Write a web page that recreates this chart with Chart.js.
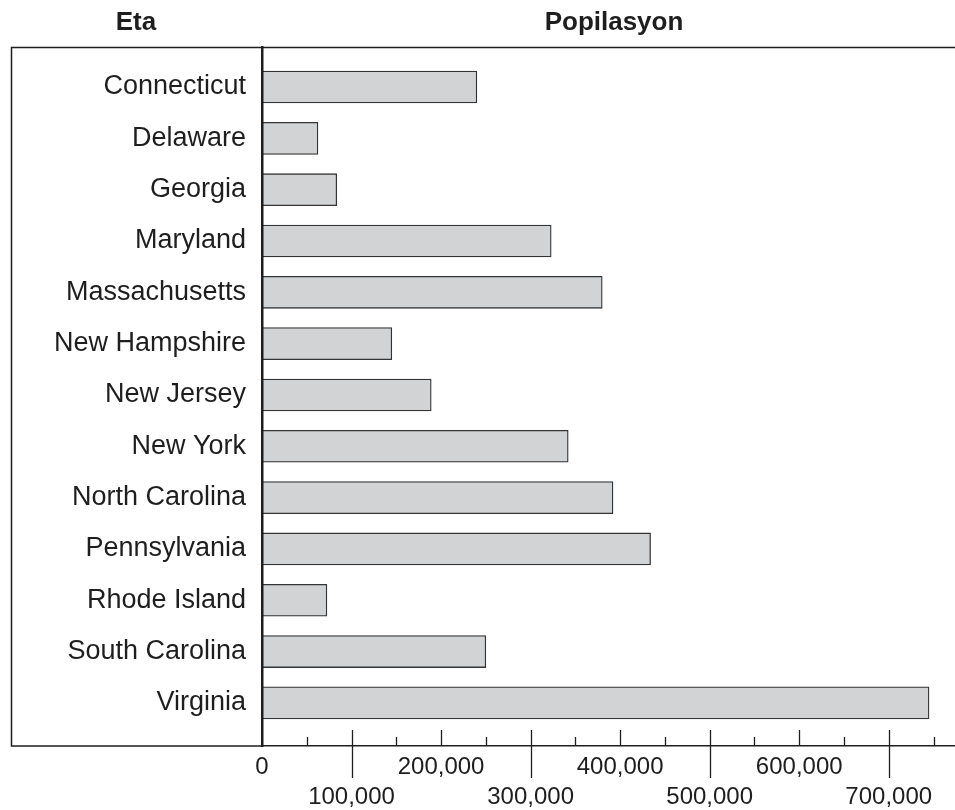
<!DOCTYPE html>
<html>
<head>
<meta charset="utf-8">
<script src="https://cdn.jsdelivr.net/npm/chart.js@4/dist/chart.umd.min.js"></script>
<style>
html,body{margin:0;padding:0;background:#fff;}
#wrap{width:955px;height:810px;}
</style>
</head>
<body>
<div id="wrap"><canvas id="c" width="955" height="810"></canvas></div>
<script>
const states = ["Connecticut","Delaware","Georgia","Maryland","Massachusetts","New Hampshire","New Jersey","New York","North Carolina","Pennsylvania","Rhode Island","South Carolina","Virginia"];
const population = [240000, 62500, 83500, 323000, 380000, 145000, 189000, 342000, 392000, 434000, 72500, 250000, 745000];
const headerLeft = "Eta";
const headerRight = "Popilasyon";
const xTicks = [0, 50000, 100000, 150000, 200000, 250000, 300000, 350000, 400000, 450000, 500000, 550000, 600000, 650000, 700000, 750000];
const xLabelled = [0, 100000, 200000, 300000, 400000, 500000, 600000, 700000];
const xLowerRow = [100000, 300000, 500000, 700000];
const xMax = 774000;

const INK = "#1e1e1e";
const FONT = "'Liberation Sans', Arial, Helvetica, sans-serif";

const framePlugin = {
  id: "frame",
  afterDraw(chart) {
    const ctx = chart.ctx;
    const a = chart.chartArea;
    const xs = chart.scales.x;
    ctx.save();
    ctx.strokeStyle = INK;
    ctx.lineWidth = 1.5;
    ctx.beginPath();
    ctx.moveTo(955, a.top + 0.5);
    ctx.lineTo(11.5, a.top + 0.5);
    ctx.lineTo(11.5, a.bottom);
    ctx.lineTo(a.left, a.bottom);
    ctx.stroke();
    ctx.lineWidth = 1.3;
    xs.ticks.forEach(t => {
      const v = t.value;
      if (v === 0) return;
      const x = Math.round(xs.getPixelForValue(v)) + 0.5;
      let y1, y2 = a.bottom;
      if (xLabelled.includes(v)) {
        y1 = a.bottom - 16;
        if (xLowerRow.includes(v)) y2 = a.bottom + 32;
      } else {
        y1 = a.bottom - 9;
      }
      ctx.beginPath();
      ctx.moveTo(x, y1);
      ctx.lineTo(x, y2);
      ctx.stroke();
    });
    ctx.fillStyle = INK;
    ctx.font = "bold 26px " + FONT;
    ctx.textAlign = "center";
    ctx.textBaseline = "middle";
    ctx.fillText(headerLeft, 136, 23);
    ctx.fillText(headerRight, 614, 23);
    ctx.restore();
  }
};

new Chart(document.getElementById("c"), {
  type: "bar",
  data: {
    datasets: [{
      data: states.map((s, i) => ({ x: population[i], y: i })),
      backgroundColor: "#d2d3d5",
      borderColor: "#333",
      borderWidth: 1.3,
      borderSkipped: false,
      barThickness: 32
    }]
  },
  options: {
    indexAxis: "y",
    responsive: false,
    animation: false,
    devicePixelRatio: 1,
    layout: { padding: { top: 47, left: 0, right: 0, bottom: 0 } },
    plugins: { legend: { display: false }, tooltip: { enabled: false } },
    scales: {
      x: {
        type: "linear",
        min: 0,
        max: xMax,
        offset: false,
        grid: { display: false, drawTicks: false, offset: false },
        border: { display: true, color: INK, width: 1.5 },
        afterBuildTicks: (s) => { s.ticks = xTicks.map(v => ({ value: v })); },
        ticks: {
          autoSkip: false,
          maxRotation: 0,
          minRotation: 0,
          padding: 6,
          color: INK,
          font: { family: FONT, size: 24, lineHeight: 1.25 },
          callback: (v) => {
            if (!xLabelled.includes(v)) return "";
            const s = v.toLocaleString("en-US");
            return xLowerRow.includes(v) ? ["", s] : s;
          }
        },
        afterFit: (s) => { s.height = 810 - 746; }
      },
      y: {
        type: "linear",
        reverse: true,
        min: -0.78,
        max: 12.84,
        offset: false,
        grid: { display: false, drawTicks: false, offset: false },
        border: { display: true, color: INK, width: 2.5, z: 1 },
        afterBuildTicks: (s) => { s.ticks = states.map((_, i) => ({ value: i })); },
        afterFit: (s) => { s.width = 262; },
        ticks: {
          autoSkip: false,
          padding: 16,
          color: INK,
          font: { family: FONT, size: 27 },
          callback: (v) => states[v] ?? ""
        }
      }
    }
  },
  plugins: [framePlugin]
});
</script>
</body>
</html>
